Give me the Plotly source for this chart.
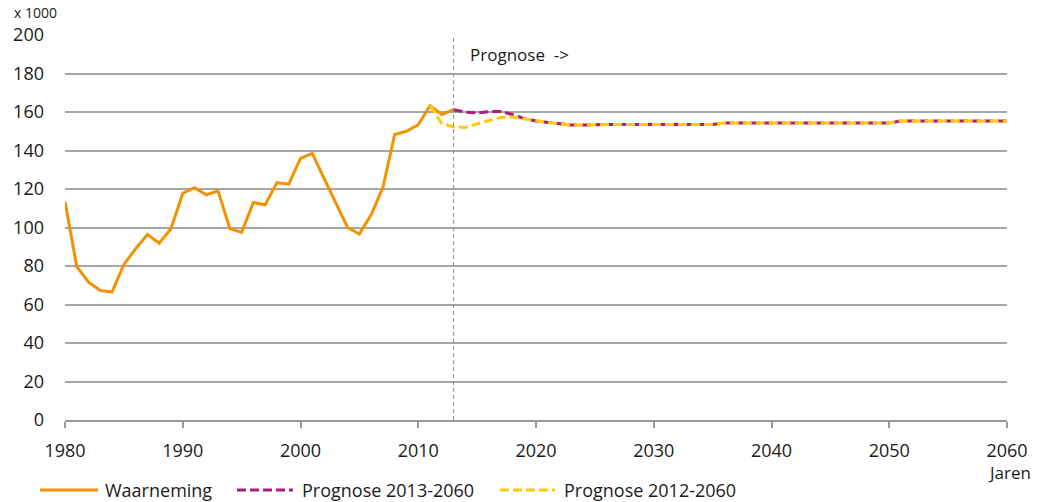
import plotly.graph_objects as go

# ---- data (x 1000) ----
obs_years = list(range(1980, 2014))
obs_values = [113.5, 79.7, 71.6, 67.3, 66.5, 80.8, 89.0, 96.3, 91.8, 99.4,
              117.8, 120.7, 117.0, 119.0, 99.4, 97.5, 113.0, 111.8, 123.3, 122.5,
              135.9, 138.5, 125.5, 112.5, 100.0, 96.6, 106.6, 120.7, 148.3, 150.0,
              153.4, 163.3, 158.7, 161.2]

prog13_years = list(range(2013, 2061))
prog13_values = [161.2, 159.9, 159.5, 160.2, 160.3, 158.7, 156.6, 155.3, 154.6, 153.9,
                 153.2, 153.2, 153.5, 153.5, 153.5, 153.5, 153.5, 153.5, 153.5, 153.5,
                 153.5, 153.5, 153.5, 154.3, 154.3, 154.3, 154.3, 154.3, 154.3, 154.3,
                 154.3, 154.3, 154.3, 154.3, 154.3, 154.3, 154.3, 154.3, 155.3, 155.3,
                 155.3, 155.3, 155.3, 155.3, 155.3, 155.3, 155.3, 155.3]

prog12_years = list(range(2011, 2061))
prog12_values = [163.3, 154.0, 152.3, 152.0, 153.8, 155.6, 157.2, 157.4, 156.5, 155.3,
                 154.6, 153.9, 153.2, 153.2, 153.5, 153.5, 153.5, 153.5, 153.5, 153.5,
                 153.5, 153.5, 153.5, 153.5, 153.5, 154.3, 154.3, 154.3, 154.3, 154.3,
                 154.3, 154.3, 154.3, 154.3, 154.3, 154.3, 154.3, 154.3, 154.3, 154.3,
                 155.3, 155.3, 155.3, 155.3, 155.3, 155.3, 155.3, 155.3, 155.3, 155.3]

series_names = ["Waarneming", "Prognose 2013-2060", "Prognose 2012-2060"]
x_ticks = [1980, 1990, 2000, 2010, 2020, 2030, 2040, 2050, 2060]
y_ticks = [0, 20, 40, 60, 80, 100, 120, 140, 160, 180, 200]
prognose_start = 2013

ORANGE = "#F39200"
MAGENTA = "#B0197F"
YELLOW = "#FFC90E"
GRID = "#A6A6A6"
TEXT = "#1A1A1A"
FONT = "Open Sans, Liberation Sans, sans-serif"

W, H = 1040, 502
ML, MR, MT, MB = 65, 33, 35, 82
PW, PH = W - ML - MR, H - MT - MB


def px_x(px):
    return (px - ML) / PW


def px_y(py):
    return (H - MB - py) / PH


fig = go.Figure()
fig.add_trace(go.Scatter(x=obs_years, y=obs_values, mode="lines", name=series_names[0],
                         line=dict(color=ORANGE, width=3), showlegend=False))
fig.add_trace(go.Scatter(x=prog13_years, y=prog13_values, mode="lines", name=series_names[1],
                         line=dict(color=MAGENTA, width=3, dash="9px,4px"), showlegend=False))
fig.add_trace(go.Scatter(x=prog12_years, y=prog12_values, mode="lines", name=series_names[2],
                         line=dict(color=YELLOW, width=3, dash="9px,4px"), showlegend=False))

shapes = [
    dict(type="line", xref="x", yref="paper", x0=prognose_start, x1=prognose_start,
         y0=0, y1=1, line=dict(color="#8C8C8C", width=1, dash="4px,3px")),
]
annotations = [
    dict(text="Prognose  ->", x=prognose_start, xref="x", y=px_y(54), yref="paper",
         xanchor="left", yanchor="middle", xshift=14, showarrow=False,
         font=dict(family=FONT, size=17, color=TEXT)),
    dict(text="x 1000", x=px_x(12), xref="paper", y=px_y(12), yref="paper",
         xanchor="left", yanchor="middle", showarrow=False,
         font=dict(family=FONT, size=14, color=TEXT)),
    dict(text="Jaren", x=2060, xref="x", y=px_y(472), yref="paper",
         xanchor="center", yanchor="middle", xshift=2, showarrow=False,
         font=dict(family=FONT, size=17, color=TEXT)),
]

# legend drawn below the chart
legend_items = [
    (series_names[0], ORANGE, "solid", 40, 98, 103),
    (series_names[1], MAGENTA, "9px,4px", 237, 293, 300),
    (series_names[2], YELLOW, "9px,4px", 500, 555, 562),
]
ly = px_y(490)
for name, color, dash, x0, x1, tx in legend_items:
    shapes.append(dict(type="line", xref="paper", yref="paper", x0=px_x(x0), x1=px_x(x1),
                       y0=ly, y1=ly, line=dict(color=color, width=3, dash=dash)))
    annotations.append(dict(text=name, x=px_x(tx), xref="paper", y=ly, yref="paper",
                            xanchor="left", yanchor="middle", showarrow=False,
                            font=dict(family=FONT, size=18, color=TEXT)))

fig.update_layout(
    width=W, height=H,
    margin=dict(l=ML, r=MR, t=MT, b=MB),
    paper_bgcolor="white", plot_bgcolor="white",
    font=dict(family=FONT, size=18, color=TEXT),
    shapes=shapes, annotations=annotations,
    showlegend=False,
)
fig.update_xaxes(range=[1980, 2060], tickvals=x_ticks, ticktext=[str(v) for v in x_ticks],
                 showgrid=False, zeroline=False, showline=True, linecolor="#999999", linewidth=1.5,
                 ticks="outside", ticklen=6, tickcolor="#999999", tickwidth=1.5,
                 ticklabelstandoff=8,
                 tickfont=dict(family=FONT, size=18, color=TEXT))
fig.update_yaxes(range=[0, 200], tickvals=y_ticks, ticktext=[str(v) for v in y_ticks],
                 showgrid=True, gridcolor=GRID, gridwidth=1.5, zeroline=False, showline=False,
                 ticks="", ticklabelstandoff=20,
                 tickfont=dict(family=FONT, size=18, color=TEXT))

fig.write_html("out.html", config={"displayModeBar": False},
               post_script="document.body.style.margin='0';document.body.style.overflow='hidden';")
